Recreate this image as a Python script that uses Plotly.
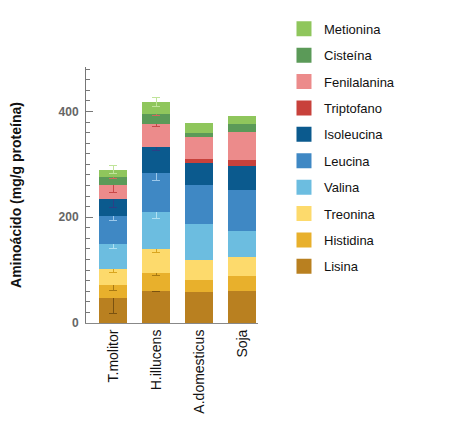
import plotly.graph_objects as go

categories = ["T.molitor", "H.illucens", "A.domesticus", "Soja"]

lisina = [47, 61, 58, 61]
histidina = [25, 33, 23, 27]
treonina = [31, 46, 39, 37]
valina = [47, 70, 67, 49]
leucina = [53, 73, 74, 77]
isoleucina = [31, 50, 42, 45]
triptofano = [0, 0, 8, 13]
fenilalanina = [26, 44, 40, 52]
cisteina = [16, 19, 9, 16]
metionina = [14, 22, 18, 14]

# error bars only exist for the first two categories (T.molitor, H.illucens)
err_lisina = [29, 2]
err_histidina = [11, 4]
err_treonina = [8, 6]
err_valina = [9, 13]
err_leucina = [10, 14]
err_isoleucina = [16, 6]
err_triptofano = []
err_fenilalanina = [14, 6]
err_cisteina = [3, 4]
err_metionina = [7, 8]

series = [
    ("Lisina", lisina, err_lisina, "#b98020", "#7a5210"),
    ("Histidina", histidina, err_histidina, "#e8b02c", "#a87a14"),
    ("Treonina", treonina, err_treonina, "#fdda6c", "#d9a520"),
    ("Valina", valina, err_valina, "#6cbde0", "#b0e0f2"),
    ("Leucina", leucina, err_leucina, "#3f88c4", "#9cc8ea"),
    ("Isoleucina", isoleucina, err_isoleucina, "#0b5a8e", "#2d3f86"),
    ("Triptofano", triptofano, err_triptofano, "#c8413b", "#8a2020"),
    ("Fenilalanina", fenilalanina, err_fenilalanina, "#ec8b8b", "#c84848"),
    ("Cisteína", cisteina, err_cisteina, "#5b9a58", "#d06a5a"),
    ("Metionina", metionina, err_metionina, "#8fc65c", "#c0e49a"),
]

fig = go.Figure()
for name, vals, errs, color, ecolor in series:
    n_err = len(errs)
    if n_err:
        fig.add_trace(go.Bar(
            x=categories[:n_err], y=vals[:n_err], name=name, showlegend=False,
            marker=dict(color=color, line=dict(width=0)),
            error_y=dict(type="data", array=errs, visible=True,
                         color=ecolor, thickness=1, width=4),
        ))
    fig.add_trace(go.Bar(
        x=categories[n_err:], y=vals[n_err:], name=name, showlegend=False,
        marker=dict(color=color, line=dict(width=0)),
    ))

# legend entries, top to bottom (Metionina first)
for name, vals, errs, color, ecolor in reversed(series):
    fig.add_trace(go.Scatter(
        x=[None], y=[None], mode="markers", name=name, legendgroup=name,
        marker=dict(symbol="square", size=15, color=color),
    ))

# the page body has an 8px margin, so the figure is slightly smaller
fig.update_layout(
    barmode="stack",
    bargap=0.34,
    width=443, height=413,
    margin=dict(l=78, r=193, t=59, b=98, autoexpand=False),
    paper_bgcolor="white", plot_bgcolor="white",
    font=dict(family="Liberation Sans, Arial, sans-serif", color="#111"),
    legend=dict(
        traceorder="grouped", tracegroupgap=6.5,
        xref="container", yref="container",
        x=0.623, xanchor="left", y=0.986, yanchor="top",
        font=dict(size=13, color="#111"),
        itemsizing="trace", bgcolor="rgba(0,0,0,0)",
        maxheight=400,
    ),
    xaxis=dict(
        range=[-0.63, 3.37], tickangle=-90, showline=True, linecolor="#888",
        linewidth=1, ticks="", tickfont=dict(size=14, color="#111"),
        showgrid=False, zeroline=False, automargin=False,
    ),
    yaxis=dict(
        range=[0, 484], dtick=200, tick0=0, showline=True, linecolor="#777",
        linewidth=1, ticks="inside", ticklen=7, tickcolor="#777",
        ticklabelstandoff=4,
        minor=dict(dtick=20, ticks="inside", ticklen=4, tickcolor="#777"),
        tickfont=dict(size=12, color="#666", weight="bold"),
        showgrid=False, zeroline=False, automargin=False,
        title=dict(text="Aminoácido (mg/g proteína)", standoff=34,
                   font=dict(size=14, color="#111", weight="bold")),
    ),
)

fig.write_html("out.html")
